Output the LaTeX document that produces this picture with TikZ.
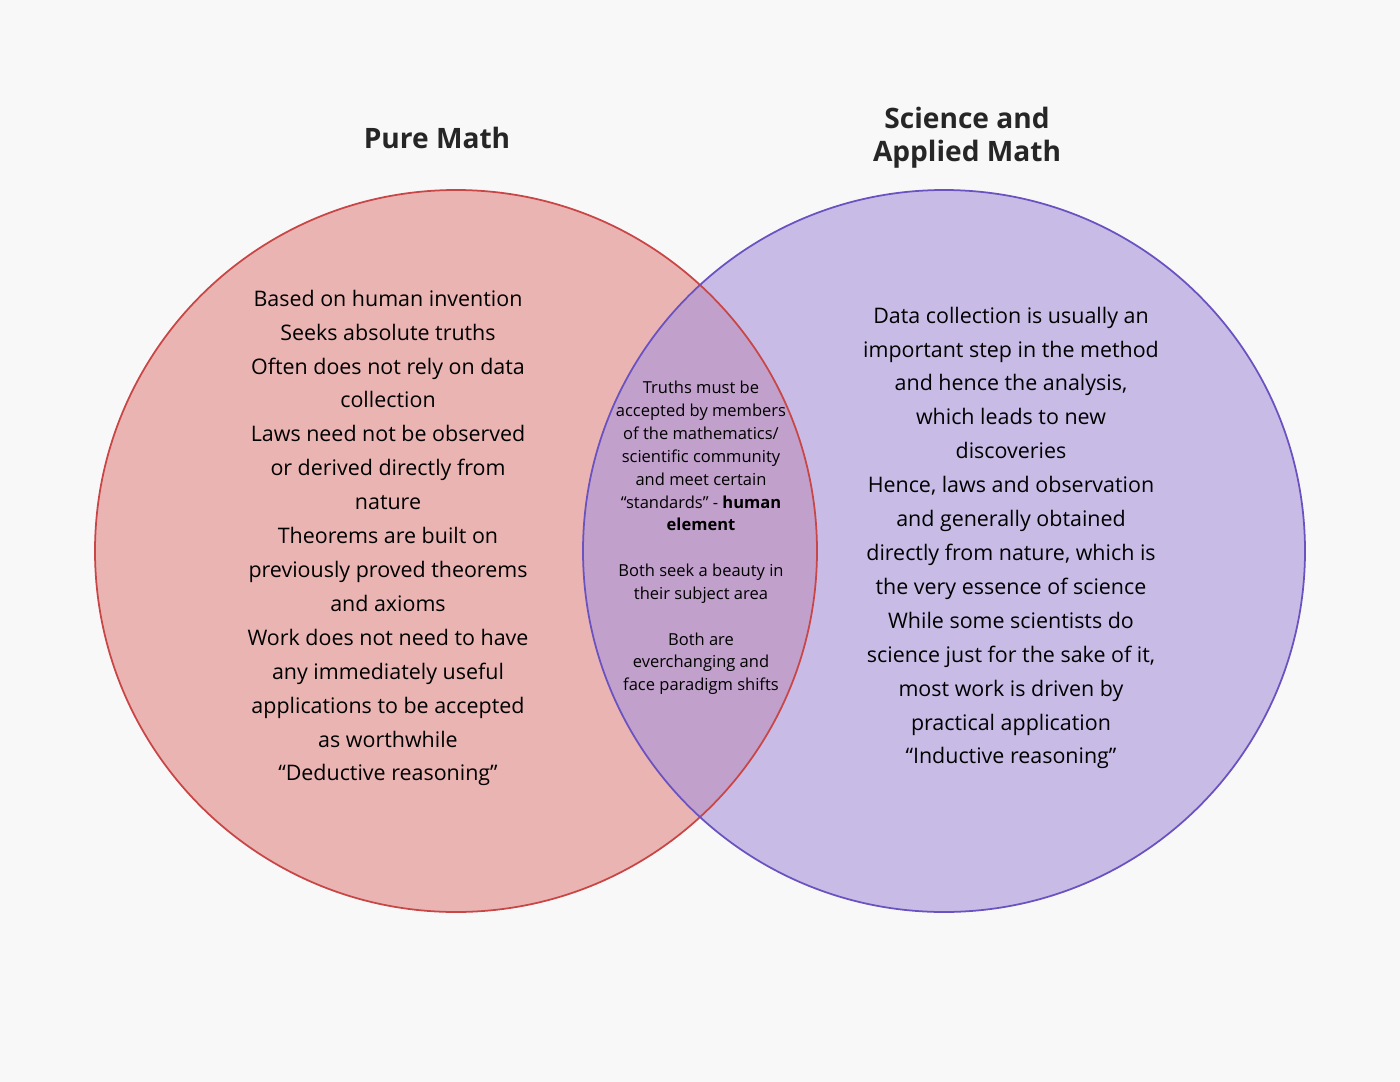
\documentclass[tikz,border=0pt]{standalone}
\usepackage{fontspec}
\setmainfont{Open Sans}
\definecolor{bgcol}{RGB}{248,248,248}
\definecolor{mathfill}{RGB}{226,135,134}
\definecolor{mathline}{RGB}{200,70,70}
\definecolor{scifill}{RGB}{168,148,221}
\definecolor{sciline}{RGB}{106,82,192}
\begin{document}
\begin{tikzpicture}[
  x=0.02cm, y=-0.02cm,
  title/.style = {font=\fontsize{16}{19}\selectfont\bfseries, align=center, text=black!85},
  side/.style = {font=\fontsize{12.2}{19.3}\selectfont, align=center},
  mid/.style = {font=\fontsize{9.4}{13}\selectfont, align=center}
]
  \fill[bgcol] (0,0) rectangle (1400,1082);
  \useasboundingbox (0,0) rectangle (1400,1082);
  \fill[mathfill, fill opacity=0.6] (456,551) circle (361);
  \fill[scifill, fill opacity=0.6] (944,551) circle (361);
  \draw[mathline, line width=1pt] (456,551) circle (361);
  \draw[sciline, line width=1pt] (944,551) circle (361);

  \node[title] (puremath) at (437,138) {Pure Math};
  \node[title] (science) at (967,138) {Science and\\Applied Math};

  \node[side] (mathtext) at (388,538) {Based on human invention\\Seeks absolute truths\\Often does not rely on data\\collection\\Laws need not be observed\\or derived directly from\\nature\\Theorems are built on\\previously proved theorems\\and axioms\\Work does not need to have\\any immediately useful\\applications to be accepted\\as worthwhile\\``Deductive reasoning''};
  \node[side] (scitext) at (1011,538) {Data collection is usually an\\important step in the method\\and hence the analysis,\\which leads to new\\discoveries\\Hence, laws and observation\\and generally obtained\\directly from nature, which is\\the very essence of science\\While some scientists do\\science just for the sake of it,\\most work is driven by\\practical application\\``Inductive reasoning''};
  \node[mid] (overlap) at (701,538) {Truths must be\\accepted by members\\of the mathematics/\\scientific community\\and meet certain\\``standards'' - \textbf{human}\\\textbf{element}\\[13pt]Both seek a beauty in\\their subject area\\[13pt]Both are\\everchanging and\\face paradigm shifts};
\end{tikzpicture}
\end{document}
